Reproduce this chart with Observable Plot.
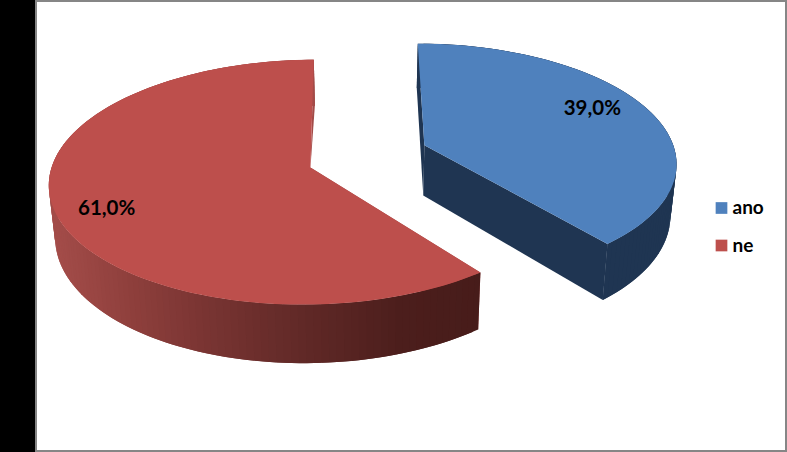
<!DOCTYPE html>
<html><head><meta charset="utf-8">
<script src="https://cdn.jsdelivr.net/npm/d3@7"></script>
<script src="https://cdn.jsdelivr.net/npm/@observablehq/plot@0.6"></script>
<style>
html,body{margin:0;padding:0;background:#000;width:787px;height:452px;overflow:hidden}
#frame{position:absolute;left:35px;top:0;width:752px;height:452px;box-sizing:border-box;background:#fff;border:2px solid #868686}
#chart{position:absolute;left:0;top:0}
#chart svg{display:block}
</style></head><body>
<div id="frame"></div><div id="chart"></div>
<script>
// data
const categories = ["ano", "ne"];
const values = [39.0, 61.0];
const topColors = ["#4f81bd", "#bd4f4c"];
const wallColors = ["#1f3552", null];
// per-slice explosion, label placement and slight edge trim (degrees)
const explodeX = [57, -57];
const explodeZ = [0.095, -0.095];
const labelRadius = [0.788, 0.816];
const labelShift = [-5.1, -3.8];
const padStart = [0, 1.6];
const padEnd = [0, 0.7];
// 3-D view
const vx = 367.6, vy = 155.7, Ry = 118, depth = 51, shrink = 0.98;
const radiusX = [252, 256];
const persp = [0.135, 0.118];
const backWallToApex = [false, true];
const redWall = d3.scaleLinear().domain([54, 130, 200, 300, 400, 480])
  .range(["#a34c49", "#8e3f3c", "#7a3533", "#612927", "#4c1e1c", "#471c1a"]).clamp(true);
const redBack = "#a34b48";

const rad = d => d * Math.PI / 180;
function pt(a, i, r = 1, low = false) {
  const X = explodeX[i] + radiusX[i] * r * Math.sin(rad(a));
  const Z = explodeZ[i] + r * Math.cos(rad(a));
  const w = 1 + persp[i] * Z;
  return low
    ? [vx + shrink * X / w, vy - Ry * Z / w + depth / w]
    : [vx + X / w, vy - Ry * Z / w];
}
const total = d3.sum(values);
let cum = 0;
const slices = categories.map((name, i) => {
  const a0 = cum / total * 360; cum += values[i];
  const a1 = cum / total * 360;
  return {name, i, mid: (a0 + a1) / 2, a0: a0 + padStart[i], a1: a1 - padEnd[i], value: values[i]};
});
const wallRows = [], topRows = [];
let id = 0;
function poly(rows, pts, c) { id++; for (const [x, y] of pts) rows.push({id, x, y, c}); }
for (const s of slices) {
  const i = s.i;
  const n = Math.ceil((s.a1 - s.a0) / 1.5);
  const as = d3.range(n + 1).map(k => s.a0 + (s.a1 - s.a0) * k / n);
  // radial cut walls
  const flat = wallColors[i] || redBack;
  for (const a of [s.a0, s.a1]) {
    const toApex = backWallToApex[i] && Math.cos(rad(a)) > 0;
    const pts = toApex
      ? [pt(a, i), pt(0, i, 0), pt(a, i, 1, true)]
      : [pt(a, i), pt(0, i, 0), pt(0, i, 0, true), pt(a, i, 1, true)];
    poly(wallRows, pts, flat);
  }
  // outer wall strips; each one runs under the next so no seams show
  for (let k = 0; k < n; k++) {
    const A = as[k], B = as[Math.min(k + 2, n)], M = as[k + 1];
    const p = [pt(A, i), pt(B, i), pt(B, i, 1, true), pt(A, i, 1, true)];
    const back = Math.cos(rad((A + M) / 2)) > 0.2;
    const c = wallColors[i] || (back ? redBack : redWall(pt((A + M) / 2, i)[0]));
    poly(wallRows, p, c);
  }
  // top face
  poly(topRows, [pt(0, i, 0), ...as.map(a => pt(a, i))], topColors[i]);
}
const fmt = v => v.toFixed(1).replace(".", ",") + "%";
const labels = slices.map(s => {
  const [x, y] = pt(s.mid + labelShift[s.i], s.i, labelRadius[s.i]);
  return {x, y, text: fmt(s.value)};
});
const font = "Lato";
const chart = Plot.plot({
  width: 787, height: 452,
  marginTop: 0, marginRight: 0, marginBottom: 0, marginLeft: 0,
  x: {domain: [0, 787], range: [0, 787], axis: null},
  y: {domain: [0, 452], range: [0, 452], axis: null},
  color: {type: "identity"},
  style: {background: "transparent", fontFamily: font},
  marks: [
    Plot.line(wallRows, {x: "x", y: "y", z: "id", fill: "c", stroke: "none", curve: "linear-closed"}),
    Plot.line(topRows, {x: "x", y: "y", z: "id", fill: "c", stroke: "none", curve: "linear-closed"}),
    Plot.text(labels, {x: "x", y: "y", text: "text", fontSize: 20.5, fontWeight: 700, fill: "#000", fontFamily: font}),
    Plot.dot(categories, {x: () => 721, y: (d, i) => 207.5 + i * 37.5, symbol: "square", r: 6.6, fill: (d, i) => topColors[i], stroke: "none"}),
    Plot.text(categories, {x: () => 732, y: (d, i) => 207 + i * 38, text: d => d, textAnchor: "start", fontSize: 19, fontWeight: 700, fill: "#000", fontFamily: font})
  ]
});
document.getElementById("chart").appendChild(chart);
</script>
</body></html>
